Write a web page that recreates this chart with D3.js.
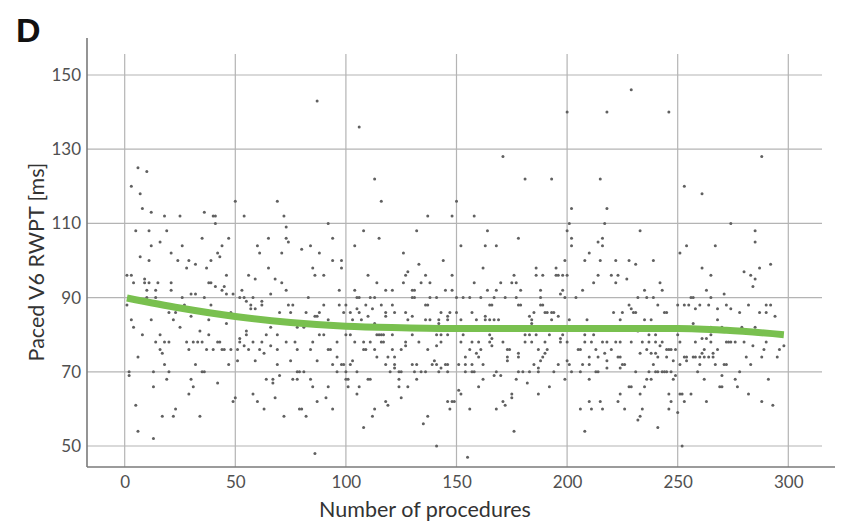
<!DOCTYPE html>
<html>
<head>
<meta charset="utf-8">
<script src="https://cdn.jsdelivr.net/npm/d3@7"></script>
<style>
	body { margin: 0; background: #fff; }
	svg { display: block; }
	.tick text { font-family: Lato, "Open Sans", sans-serif; font-size: 17px; fill: #505050; }
	.axis-title { font-family: Lato, "Open Sans", sans-serif; font-size: 21.5px; fill: #333; }
</style>
</head>
<body>
<div id="chart"></div>
<script>
// ********** RWPT SCATTER **********

const width = 854;
const height = 525;

// Tick labels
const xTicks = [0, 50, 100, 150, 200, 250, 300];
const yTicks = [50, 70, 90, 110, 130, 150];

// Points as [procedure number, paced V6 RWPT (ms)] in chunks
const proc0to70 = [
	[6,125],[10,124],[3,120],[7,118],[8,114],[12,113],[18,112],[25,112],[36,113],[40,112],[41,112],[41,110],
	[50,116],[54,112],[69,116],[72,112],[5,108],[11,108],[19,108],[35,106],[47,106],[12,104],[16,105],[26,104],
	[44,104],[60,104],[65,106],[61,102],[7,101],[11,100],[21,102],[24,100],[29,100],[28,98],[32,99],[37,98],
	[39,100],[42,102],[43,101],[65,98],[1,96],[3,96],[46,96],[56,96],[59,95],[68,95],[4,94],[9,95],[9,94],
	[11,94],[15,94],[21,94],[38,94],[39,94],[41,93],[45,93],[10,92],[14,92],[21,92],[44,92],[30,91],[32,91],
	[46,91],[49,91],[53,92],[66,91],[10,90],[14,90],[26,90],[36,90],[52,90],[54,90],[55,89],[58,90],[62,89],
	[62,88],[57,88],[57,87],[59,87],[39,88],[27,88],[27,87],[1,88],[48,86],[70,86],
	[3,84],[12,84],[20,86],[22,84],[23,86],[4,82],[25,82],[30,85],[38,84],[46,83],[66,82],[8,80],[16,80],
	[34,81],[38,80],[55,81],[55,80],[64,80],[14,78],[18,78],[20,78],[28,78],[31,78],[33,78],[35,78],[42,78],
	[43,78],[52,79],[52,78],[54,77],[58,78],[62,78],[16,76],[17,75],[29,76],[37,76],[40,76],[44,76],[45,76],
	[48,76],[51,76],[56,76],[61,76],[63,75],[66,77],[69,76],[6,74],[18,72],[32,72],[47,72],[51,73],[59,73],
	[69,72],[2,70],[2,69],[13,70],[20,70],[35,70],[36,70],[19,68],[30,68],[64,68],[67,68],[67,67],[13,66],
	[31,66],[42,67],[70,69],[29,64],[58,64],[50,63],[49,62],[68,63],[5,61],[60,62],[63,60],[23,60],[17,58],
	[22,58],[34,58],[6,54],[13,52]
];

const proc70to150 = [
	[73,109],[73,106],[74,105],[84,104],[80,103],[71,102],[88,102],[85,98],[86,96],[90,96],[94,100],[98,100],
	[98,98],[71,94],[73,92],[97,92],[110,96],[114,94],[104,92],[118,92],[121,92],[127,96],[128,97],[126,94],
	[130,92],[131,92],[134,94],[138,94],[136,96],[148,96],[144,100],[145,92],[148,92],[133,99],[83,90],[105,90],
	[106,90],[111,90],[113,90],[130,90],[131,90],[138,90],[141,90],[74,88],[76,88],[75,86],[82,86],[86,85],
	[87,85],[88,86],[90,88],[97,88],[100,88],[99,86],[102,86],[105,87],[106,86],[103,84],[107,84],[109,88],
	[110,85],[112,87],[113,83],[116,88],[121,88],[118,86],[118,85],[122,86],[128,84],[130,85],[127,86],[136,88],
	[137,88],[136,84],[138,84],[142,84],[142,83],[143,86],[146,85],[146,84],[147,86],[92,84],
	[78,82],[81,82],[69,80],[88,80],[90,80],[100,80],[102,80],[114,80],[115,80],[116,80],[117,80],[121,80],
	[130,80],[141,80],[143,80],[146,80],[73,78],[77,78],[85,78],[96,78],[104,78],[108,78],[111,78],[116,78],
	[117,78],[127,78],[133,78],[143,78],[127,77],[141,77],[78,76],[84,76],[92,76],[93,76],[108,76],[109,76],
	[113,76],[121,76],[125,76],[137,76],[96,74],[114,74],[119,74],[122,74],[75,73],[87,73],[103,73],[140,73],
	[94,72],[98,72],[99,72],[102,72],[118,72],[122,72],[130,72],[132,72],[139,72],[141,72],[145,72],[146,72],
	[122,71],[143,71],[78,70],[79,70],[81,70],[96,70],[100,70],[105,70],[120,70],[124,70],[125,70],[131,70],
	[134,70],[136,70],[142,70],[146,70],[76,68],[78,68],[84,68],[100,68],[101,68],[110,68],[111,68],[124,68],
	[132,68],[85,66],[92,66],[101,66],[106,66],[124,66],[128,66],[105,64],[91,63],[125,63],[87,62],[118,62],
	[146,62],[148,62],[119,61],[79,60],[80,60],[94,60],[113,60],[147,60],[72,58],[82,58],[112,58],[137,58],
	[135,56],[108,55],[141,50],[86,48]
];

const proc150to230 = [
	[162,98],[186,98],[195,98],[199,100],[208,100],[215,100],[222,100],[228,100],[176,96],[177,94],[186,96],
	[189,96],[195,96],[196,96],[198,96],[200,96],[214,96],[220,96],[223,96],[158,94],[170,94],[175,94],[212,94],
	[222,94],[227,95],[164,92],[168,92],[179,92],[188,92],[197,91],[198,92],[207,92],[204,90],[153,90],[156,90],
	[161,90],[167,90],[172,90],[177,90],[188,90],[199,90],[150,90],[165,88],[166,88],[178,88],[179,88],[188,88],
	[189,88],[228,88],[229,87],[150,86],[157,86],[163,85],[163,84],[165,84],[167,84],[169,84],[159,84],[152,84],
	[185,86],[183,85],[184,84],[184,83],[190,86],[191,86],[193,86],[194,86],[193,84],[196,85],[201,84],[209,84],
	[221,86],[225,86],[224,84],
	[153,80],[165,80],[181,80],[183,80],[186,80],[192,80],[198,80],[208,80],[212,80],[166,79],[197,79],[152,78],
	[157,78],[160,78],[165,78],[171,78],[181,78],[184,78],[190,78],[197,78],[200,78],[208,78],[211,78],[216,78],
	[218,78],[222,78],[224,78],[229,78],[166,77],[156,76],[161,76],[173,76],[174,76],[187,76],[191,76],[205,76],
	[206,76],[213,76],[220,76],[159,75],[178,75],[190,75],[217,75],[154,74],[160,74],[173,74],[178,74],[189,74],
	[210,74],[214,74],[223,74],[224,74],[173,73],[188,73],[200,73],[218,73],[151,72],[154,72],[157,72],[162,72],
	[185,72],[196,72],[201,72],[207,72],[210,72],[225,72],[226,72],[187,71],[218,71],[224,71],[154,70],[157,70],
	[158,70],[168,70],[178,70],[180,70],[183,70],[187,70],[194,70],[202,70],[206,70],[213,70],[214,70],[167,69],
	[170,69],[162,68],[177,68],[199,68],[210,68],[182,67],[160,66],[192,66],[228,66],[151,65],[152,64],[175,64],
	[187,64],[224,64],[175,63],[149,62],[171,62],[210,62],[215,62],[223,62],[172,61],[156,60],[168,60],[206,60],
	[211,60],[216,60],[226,60],[176,54],[208,54],[155,47]
];

const proc230to300 = [
	[231,99],[239,100],[261,98],[265,96],[280,97],[283,96],[285,95],[284,93],[287,98],[292,99],[242,94],[243,92],
	[235,92],[263,92],[271,91],[232,90],[236,90],[239,90],[250,88],[253,88],[255,88],[256,90],[257,90],[260,88],
	[264,88],[265,90],[268,87],[272,88],[274,87],[282,88],[290,88],[292,88],[278,86],[287,86],[290,86],[258,87],
	[241,88],[230,86],[231,86],[244,86],[245,86],[294,85],[268,84],[235,84],[238,84],[257,83],[265,82],[270,82],
	[279,82],[285,82],
	[232,81],[237,80],[240,80],[250,80],[261,79],[263,79],[265,80],[266,81],[234,78],[237,78],[240,78],[243,78],
	[251,78],[258,78],[265,78],[272,78],[273,78],[274,78],[276,78],[280,78],[290,78],[242,77],[284,77],[236,76],
	[245,76],[246,76],[247,76],[249,76],[262,76],[268,76],[289,76],[296,76],[298,77],[233,75],[238,75],[240,75],
	[266,75],[261,75],[241,74],[245,74],[253,74],[254,74],[257,74],[258,74],[260,74],[262,74],[264,74],[266,74],
	[281,74],[288,74],[295,74],[248,73],[254,73],[239,72],[251,72],[260,72],[267,72],[271,72],[272,72],[283,72],
	[231,70],[237,70],[240,70],[241,70],[243,70],[244,70],[245,70],[247,70],[259,70],[278,70],[249,69],[270,69],
	[236,68],[238,68],[248,68],[262,68],[276,68],[291,68],[229,66],[235,66],[269,66],[270,66],[277,66],[233,64],
	[246,64],[251,64],[252,64],[256,64],[282,64],[247,62],[253,62],[263,62],[288,62],[293,61],[234,60],[246,60],
	[250,59],[233,58],[232,57],[241,55],[252,50]
];

// The sparse points above ~100 ms from procedure 85 onwards
const upperPoints = [
	[87,143],[92,110],[94,106],[106,136],[113,122],[116,116],[137,112],[148,112],[150,116],[158,112],[171,128],
	[181,122],[193,122],[200,140],[202,114],[201,110],[200,108],[202,106],[202,104],[215,122],[214,105],[210,102],
	[108,108],[104,104],[115,106],[132,108],[126,102],[164,108],[152,104],[163,104],[168,104],[178,106],
	[229,146],[218,140],[246,140],[288,128],[218,114],[217,110],[253,120],[261,118],[274,110],[233,108],[285,108],
	[285,105],[216,106],[216,104],[254,104],[267,104],[251,102]
];

// Smoothed trend (green line)
const trendProc = [1, 25, 50, 75, 100, 125, 150, 200, 250, 272, 298];
const trendRwpt = [89.9, 87.2, 84.9, 83.3, 82.3, 81.9, 81.7, 81.7, 81.7, 81.2, 80.0];

// Frame positions
const frame = { left: 87, bottom: 467, top: 38, gridTop: 54, gridRight: 822, axisRight: 835 };

const x = d3.scaleLinear().domain([0, 300]).range([124.7, 788.3]);
const y = d3.scaleLinear().domain([50, 150]).range([446, 75]);

const svg = d3.select('#chart')
	.append('svg')
	.attr('width', width)
	.attr('height', height);

// Panel letter
svg.append('text')
	.attr('x', 16)
	.attr('y', 42)
	.attr('font-family', '"Liberation Sans", Arial, sans-serif')
	.attr('font-weight', 'bold')
	.attr('font-size', 34)
	.attr('fill', '#111')
	.text('D');

// Grid
const grid = svg.append('g').attr('class', 'grid');

grid.selectAll('line.h')
	.data(yTicks)
	.enter()
	.append('line')
	.attr('class', 'h')
	.attr('x1', frame.left)
	.attr('x2', frame.gridRight)
	.attr('y1', d => y(d))
	.attr('y2', d => y(d))
	.attr('stroke', '#b4b4b4')
	.attr('stroke-width', 1.2);

grid.selectAll('line.v')
	.data(xTicks)
	.enter()
	.append('line')
	.attr('class', 'v')
	.attr('x1', d => x(d))
	.attr('x2', d => x(d))
	.attr('y1', frame.gridTop)
	.attr('y2', frame.bottom)
	.attr('stroke', '#b4b4b4')
	.attr('stroke-width', 1.2);

// Axis lines
svg.append('line')
	.attr('x1', frame.left).attr('x2', frame.left)
	.attr('y1', frame.top).attr('y2', frame.bottom)
	.attr('stroke', '#7a7a7a').attr('stroke-width', 1.6);

svg.append('line')
	.attr('x1', frame.left).attr('x2', frame.axisRight)
	.attr('y1', frame.bottom).attr('y2', frame.bottom)
	.attr('stroke', '#7a7a7a').attr('stroke-width', 1.6);

// Tick labels
const xAxis = svg.append('g')
	.attr('transform', `translate(0, ${frame.bottom})`)
	.call(d3.axisBottom(x).tickValues(xTicks).tickSize(0).tickPadding(9));
xAxis.select('.domain').remove();

const yAxis = svg.append('g')
	.attr('transform', `translate(${frame.left}, 0)`)
	.call(d3.axisLeft(y).tickValues(yTicks).tickSize(0).tickPadding(6));
yAxis.select('.domain').remove();

// Points
const allPoints = [].concat(proc0to70, proc70to150, proc150to230, proc230to300, upperPoints);

svg.append('g')
	.attr('class', 'points')
	.selectAll('circle')
	.data(allPoints)
	.enter()
	.append('circle')
	.attr('cx', d => x(d[0]))
	.attr('cy', d => y(d[1]))
	.attr('r', 1.5)
	.attr('fill', '#606060');

// Trend line
const trend = trendProc.map((p, i) => [p, trendRwpt[i]]);
const line = d3.line()
	.x(d => x(d[0]))
	.y(d => y(d[1]))
	.curve(d3.curveMonotoneX);

svg.append('path')
	.datum(trend)
	.attr('d', line)
	.attr('fill', 'none')
	.attr('stroke', '#79c04f')
	.attr('stroke-width', 7)
	.attr('stroke-linecap', 'butt');

// Axis titles
svg.append('text')
	.attr('class', 'axis-title')
	.attr('x', 425)
	.attr('y', 517)
	.attr('text-anchor', 'middle')
	.text('Number of procedures');

svg.append('text')
	.attr('class', 'axis-title')
	.attr('transform', 'translate(44, 262) rotate(-90)')
	.attr('text-anchor', 'middle')
	.text('Paced V6 RWPT [ms]');
</script>
</body>
</html>
